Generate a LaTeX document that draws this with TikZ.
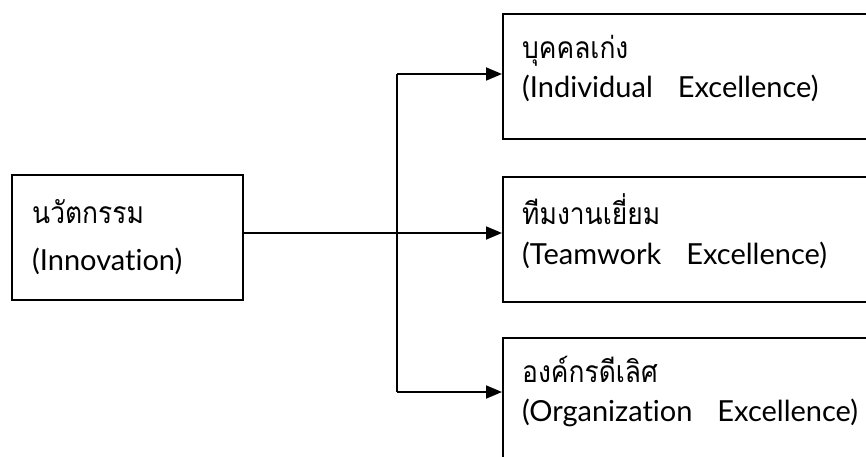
\documentclass[tikz,border=0pt]{standalone}
\usepackage{fontspec}
\newfontfamily\thaifont[Script=Thai, FakeStretch=0.88]{Loma}
\newfontfamily\latfont[Ligatures=NoCommon]{Lato}
\usetikzlibrary{arrows.meta}
\newcommand{\gapsp}{\hspace{25pt}}
\tikzset{
  box/.style={draw=black, line width=1.8pt, rectangle, inner sep=0pt, anchor=north west},
  thtxt/.style={anchor=base west, inner sep=0pt, font=\thaifont\fontsize{30pt}{36pt}\selectfont},
  entxt/.style={anchor=base west, inner sep=0pt, font=\latfont\fontsize{29pt}{34pt}\selectfont},
  conn/.style={draw=black, line width=1.8pt},
  arr/.style={conn, -{Triangle[length=16pt, width=13pt]}}
}
\begin{document}
\begin{tikzpicture}[x=1pt, y=-1pt]
\useasboundingbox (0,0) rectangle (866,457);
% boxes
\node[box, minimum width=231pt, minimum height=125pt] (inno) at (11,174) {};
\node[box, minimum width=380pt, minimum height=125pt] (ind) at (502,13) {};
\node[box, minimum width=380pt, minimum height=125pt] (team) at (502,176) {};
\node[box, minimum width=380pt, minimum height=140pt] (org) at (502,337) {};
% texts
\node[thtxt] (t1a) at (32,223) {นวัตกรรม};
\node[entxt] (t1b) at (32,270) {(Innovation)};
\node[thtxt] (t2a) at (522,59) {บุคคลเก่ง};
\node[entxt] (t2b) at (522,98) {(Individual\gapsp Excellence)};
\node[thtxt] (t3a) at (522,224) {ทีมงานเยี่ยม};
\node[entxt] (t3b) at (522,264) {(Teamwork\gapsp Excellence)};
\node[thtxt] (t4a) at (522,382) {องค์กรดีเลิศ};
\node[entxt] (t4b) at (522,421) {(Organization\gapsp Excellence)};
% connectors
\coordinate (j1) at (397,74);
\coordinate (j3) at (397,392);
\coordinate (jm) at (397,233);
\draw[arr] (inno.east |- jm) -- (team.west |- jm);
\draw[conn] (j1) -- (j3);
\draw[arr] (j1) -- (ind.west |- j1);
\draw[arr] (j3) -- (org.west |- j3);
\end{tikzpicture}
\end{document}
